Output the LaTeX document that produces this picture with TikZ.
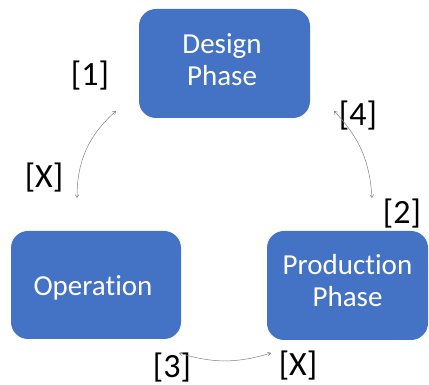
\documentclass[tikz,border=0pt]{standalone}
\usepackage{fontspec}
\setmainfont{Carlito}[Ligatures=NoCommon]
\usetikzlibrary{arrows.meta}
\definecolor{boxblue}{HTML}{4472C4}
\definecolor{arrowgray}{HTML}{7F7F7F}
\tikzset{
  phasebox/.style={draw=none, fill=boxblue, rounded corners=17pt},
  boxtext/.style={text=white, align=center, inner sep=0pt, font=\fontsize{29}{32}\selectfont},
  lbl/.style={text=black, inner sep=0pt, font=\fontsize{34}{36}\selectfont},
  cycarrow/.style={draw=arrowgray, line width=0.5pt, {Straight Barb[length=3pt,width=4pt]}-{Straight Barb[length=3pt,width=4pt]}}
}
\begin{document}
\begin{tikzpicture}[x=1pt,y=1pt]
\useasboundingbox (0,0) rectangle (429,385);
% boxes
\path[phasebox] (139,267) rectangle (310,376);
\path[phasebox] (11,46) rectangle (181,154);
\path[phasebox] (267,45) rectangle (428,154);
\node[boxtext] (design) at (222,325) {Design\\Phase};
\node[boxtext] (oper) at (93,97) {Operation};
\node[boxtext] (prod) at (347.5,104) {Production\\Phase};
% labels
\node[lbl] (l1) at (90,309) {[1]};
\node[lbl] (lx1) at (44,207) {[X]};
\node[lbl] (l4) at (358,269) {[4]};
\node[lbl] (l2) at (402,171) {[2]};
\node[lbl] (l3) at (172,17) {[3]};
\node[lbl] (lx2) at (298,19) {[X]};
% arrow ends
\coordinate (a1s) at (77,187);
\coordinate (a1e) at (116,274);
\coordinate (a2s) at (334,274);
\coordinate (a2e) at (372,187);
\coordinate (a3s) at (179,32);
\coordinate (a3e) at (271,32);
\draw[cycarrow] (a1s) to[bend left=24] (a1e);
\draw[cycarrow] (a2s) to[bend left=20] (a2e);
\draw[cycarrow] (a3s) to[bend right=17] (a3e);
\end{tikzpicture}
\end{document}
